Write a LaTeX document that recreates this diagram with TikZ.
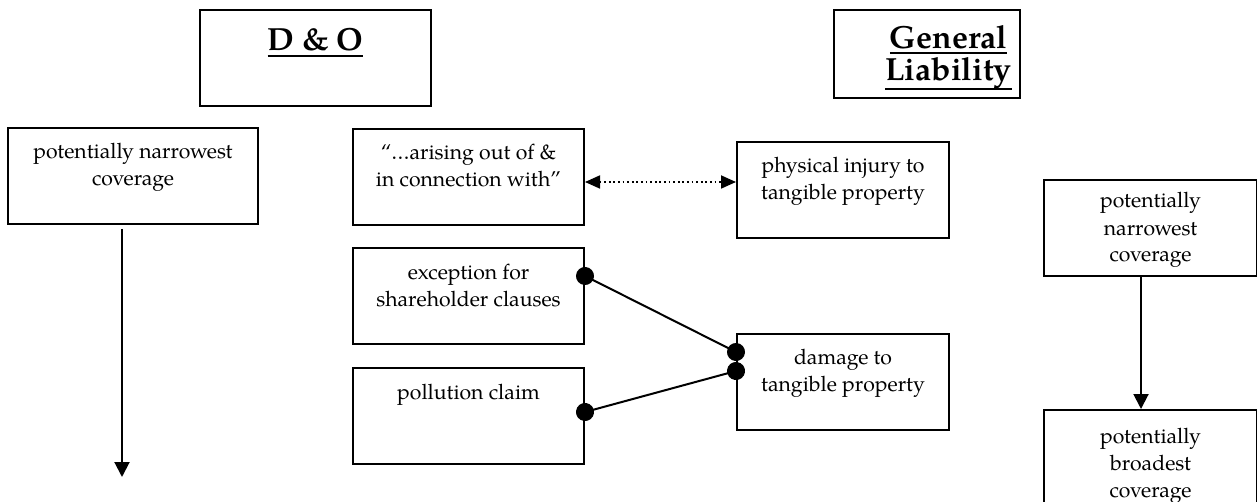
\documentclass[tikz,border=0pt]{standalone}
\usepackage{fontspec}
\setmainfont{TeX Gyre Pagella}
\usetikzlibrary{arrows.meta}
\newcommand\uln[2][-3pt]{\leavevmode\setbox0=\hbox{#2}\rlap{\rule[#1]{\wd0}{1.1pt}}\box0}
\newcommand\boxtxt[4]{\parbox[t][#2][t]{#1}{\centering\fontsize{10.6pt}{13.5pt}\selectfont\rule{0pt}{#3}#4}}
\tikzset{
  box/.style={draw, line width=1pt, inner sep=0pt, anchor=north west},
  arr/.style={line width=1pt, -{Triangle[length=7.5pt,width=7.5pt]}},
  dotarr/.style={line width=0.9pt, dash pattern=on 0.9pt off 1.4pt,
     {Triangle[length=7.5pt,width=6.5pt]}-{Triangle[length=7.5pt,width=6.5pt]}},
  conn/.style={line width=1pt, {Circle[length=9pt]}-{Circle[length=9pt]},
     shorten <=-4.5pt, shorten >=-4.5pt}
}
\begin{document}
\begin{tikzpicture}[x=0.5pt,y=-0.5pt]
\useasboundingbox[fill=white] (0,0) rectangle (1257,502);
% titles
\node[box] (dno) at (199,9) {\parbox[t][48pt][t]{115.5pt}{\centering\fontsize{16pt}{16pt}\selectfont\bfseries\rule{0pt}{20.5pt}\uln{D \& O}}};
\node[box] (gl) at (833,9) {\parbox[t][44pt][t]{93pt}{\centering\leftskip=21.5pt plus 1fil\fontsize{16pt}{16pt}\selectfont\bfseries\rule{0pt}{19.5pt}\uln[-2.5pt]{General}\\\uln[-4.5pt]{Liability}}};
% left column
\node[box] (narrowL) at (7,127) {\boxtxt{125pt}{48pt}{15.5pt}{potentially narrowest\\coverage}};
% middle
\node[box] (arise) at (352,128) {\boxtxt{115.5pt}{48pt}{15.5pt}{“…arising out of \&\\in connection with”}};
\node[box] (exc) at (352,247) {\boxtxt{115.5pt}{48pt}{15.5pt}{exception for\\shareholder clauses}};
\node[box] (poll) at (352,367) {\boxtxt{115.5pt}{48pt}{15.5pt}{pollution claim}};
\node[box] (phys) at (736,141) {\boxtxt{106pt}{48pt}{15.5pt}{physical injury to\\tangible property}};
\node[box] (dmg) at (736,333) {\boxtxt{106pt}{48pt}{15pt}{damage to\\tangible property}};
% right column
\node[box] (narrowR) at (1043,179) {\boxtxt{106.5pt}{48pt}{14pt}{potentially\\narrowest\\coverage}};
\node[box] (broadR) at (1043,409) {\boxtxt{106.5pt}{48pt}{16.5pt}{potentially\\broadest\\coverage}};
% connectors
\coordinate (lend) at (122,477);
\draw[arr, shorten <=2pt] (lend |- narrowL.south) -- (lend);
\draw[arr] ([xshift=-4.75pt]narrowR.south) -- ([xshift=-4.75pt]broadR.north);
\coordinate (dotL) at ([yshift=-27pt]arise.north east);
\draw[dotarr] (dotL) -- (dotL -| phys.west);
\draw[conn] ([yshift=-14.5pt]exc.north east) -- ([yshift=-9.5pt]dmg.north west);
\draw[conn] ([yshift=-22.5pt]poll.north east) -- ([yshift=-19pt]dmg.north west);
\end{tikzpicture}
\end{document}
